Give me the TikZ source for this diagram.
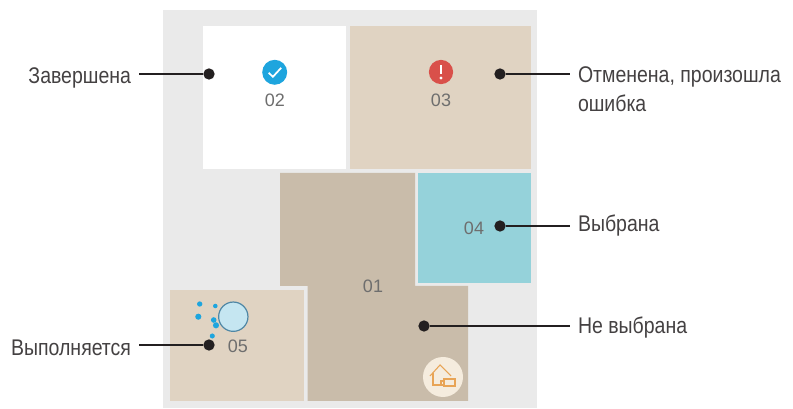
\documentclass[tikz,border=0pt]{standalone}
\usepackage{fontspec}
\setmainfont{Liberation Sans}
\newfontfamily\callfont[FakeStretch=0.86]{Liberation Sans}
\usepackage{xcolor}
\usetikzlibrary{positioning,calc}
\definecolor{mapBg}{HTML}{EAEAEA}
\definecolor{roomDark}{HTML}{C9BCAA}
\definecolor{roomLight}{HTML}{E0D3C2}
\definecolor{roomBlue}{HTML}{95D2DA}
\definecolor{tickBlue}{HTML}{1EA5DE}
\definecolor{failRed}{HTML}{D9504A}
\definecolor{homeOrange}{HTML}{E8A456}
\definecolor{homeBack}{HTML}{F5ECDE}
\definecolor{numGrey}{HTML}{6E6E6E}
\definecolor{inkDark}{HTML}{231F20}
\definecolor{robotFill}{HTML}{C5E6F1}
\definecolor{robotEdge}{HTML}{4F87A5}
\tikzset{
  roomnum/.style={font=\fontsize{13.5}{15}\selectfont, text=numGrey, inner sep=0pt},
  pin/.style={circle,fill=inkDark,inner sep=0pt,minimum size=8.5pt},
  call/.style={font=\callfont\fontsize{17}{21.8}\selectfont, text=inkDark!85, inner sep=5.8pt, align=left},
  lead/.style={draw=inkDark,line width=1.8pt},
  spray/.style={circle,fill=tickBlue,inner sep=0pt}
}
\begin{document}
\begin{tikzpicture}[x=0.75pt,y=-0.75pt]
\useasboundingbox (0,0) rectangle (793,409);
% map
\fill[mapBg] (163,10) rectangle (537,408);
\fill[white] (203,26) rectangle (346,169);
\fill[roomLight] (350,26) rectangle (531,169);
\fill[roomDark] (280,173) -- (415,173) -- (415,286) -- (468,286) -- (468,401) -- (307.5,401) -- (307.5,286) -- (280,286) -- cycle;
\fill[roomBlue] (418,173) rectangle (531,283);
\fill[roomLight] (170,290) rectangle (304,401);

% numbers
\node[roomnum] (num01) at (373,286) {01};
\node[roomnum] (num02) at (275,100) {02};
\node[roomnum] (num03) at (441,100) {03};
\node[roomnum] (num04) at (474,228) {04};
\node[roomnum] (num05) at (238,346) {05};

% status icons
\node[circle,fill=tickBlue,inner sep=0pt,minimum size=18.7pt] (tick) at (274.7,72.3) {};
\draw[white,line width=1.3pt] ($(tick)+(-6,0.5)$) -- ($(tick)+(-1.8,4.5)$) -- ($(tick)+(6.5,-4.5)$);
\node[circle,fill=failRed,inner sep=0pt,minimum size=18.2pt] (warn) at (441,72) {};
\draw[white,line width=2pt] ($(warn)+(0,-6.5)$) -- ($(warn)+(0,2)$);
\fill[white] ($(warn)+(0,6)$) circle (1.7);

% robot
\node[circle,draw=robotEdge,fill=robotFill,line width=0.9pt,inner sep=0pt,minimum size=22pt] (robot) at (233.3,316.7) {};
\foreach \px/\py/\ps in {199.7/304/4,215.3/306/3.4,198.3/316.7/4.6,213.7/320/4.2,216/325.3/4.6,212.3/336/3.8}
  \node[spray,minimum size=\ps pt] at (\px,\py) {};

% home marker
\node[circle,fill=homeBack,inner sep=0pt,minimum size=30pt] (home) at (443,377) {};
\draw[homeOrange,line width=0.8pt] (430,376) -- (440,365) -- (451,376);
\draw[homeOrange,line width=0.8pt] (433,373) -- (433,385) -- (441,385);
\draw[homeOrange,line width=0.8pt,fill=homeBack] (444,379) rectangle (455,386);
\draw[homeOrange,line width=0.8pt] (444,381) -- (441,381) -- (441,385) -- (444,385);

% callouts
\node[pin] (pinDone) at (209,74) {};
\node[pin] (pinFail) at (500,74) {};
\node[pin] (pinPick) at (500,226) {};
\node[pin] (pinFree) at (424,326) {};
\node[pin] (pinRun) at (209,345) {};

\node[call,anchor=east] (lblDone) at (139,77.5) {Завершена};
\node[call,anchor=west] (lblFail) at (570,89) {Отменена, произошла\\ошибка};
\node[call,anchor=west] (lblPick) at (570,225.5) {Выбрана};
\node[call,anchor=west] (lblFree) at (570,327.5) {Не выбрана};
\node[call,anchor=east] (lblRun) at (139,348) {Выполняется};

\draw[lead] (pinDone) -- (pinDone -| lblDone.east);
\draw[lead] (pinFail) -- (pinFail -| lblFail.west);
\draw[lead] (pinPick) -- (pinPick -| lblPick.west);
\draw[lead] (pinFree) -- (pinFree -| lblFree.west);
\draw[lead] (pinRun) -- (pinRun -| lblRun.east);
\end{tikzpicture}
\end{document}
